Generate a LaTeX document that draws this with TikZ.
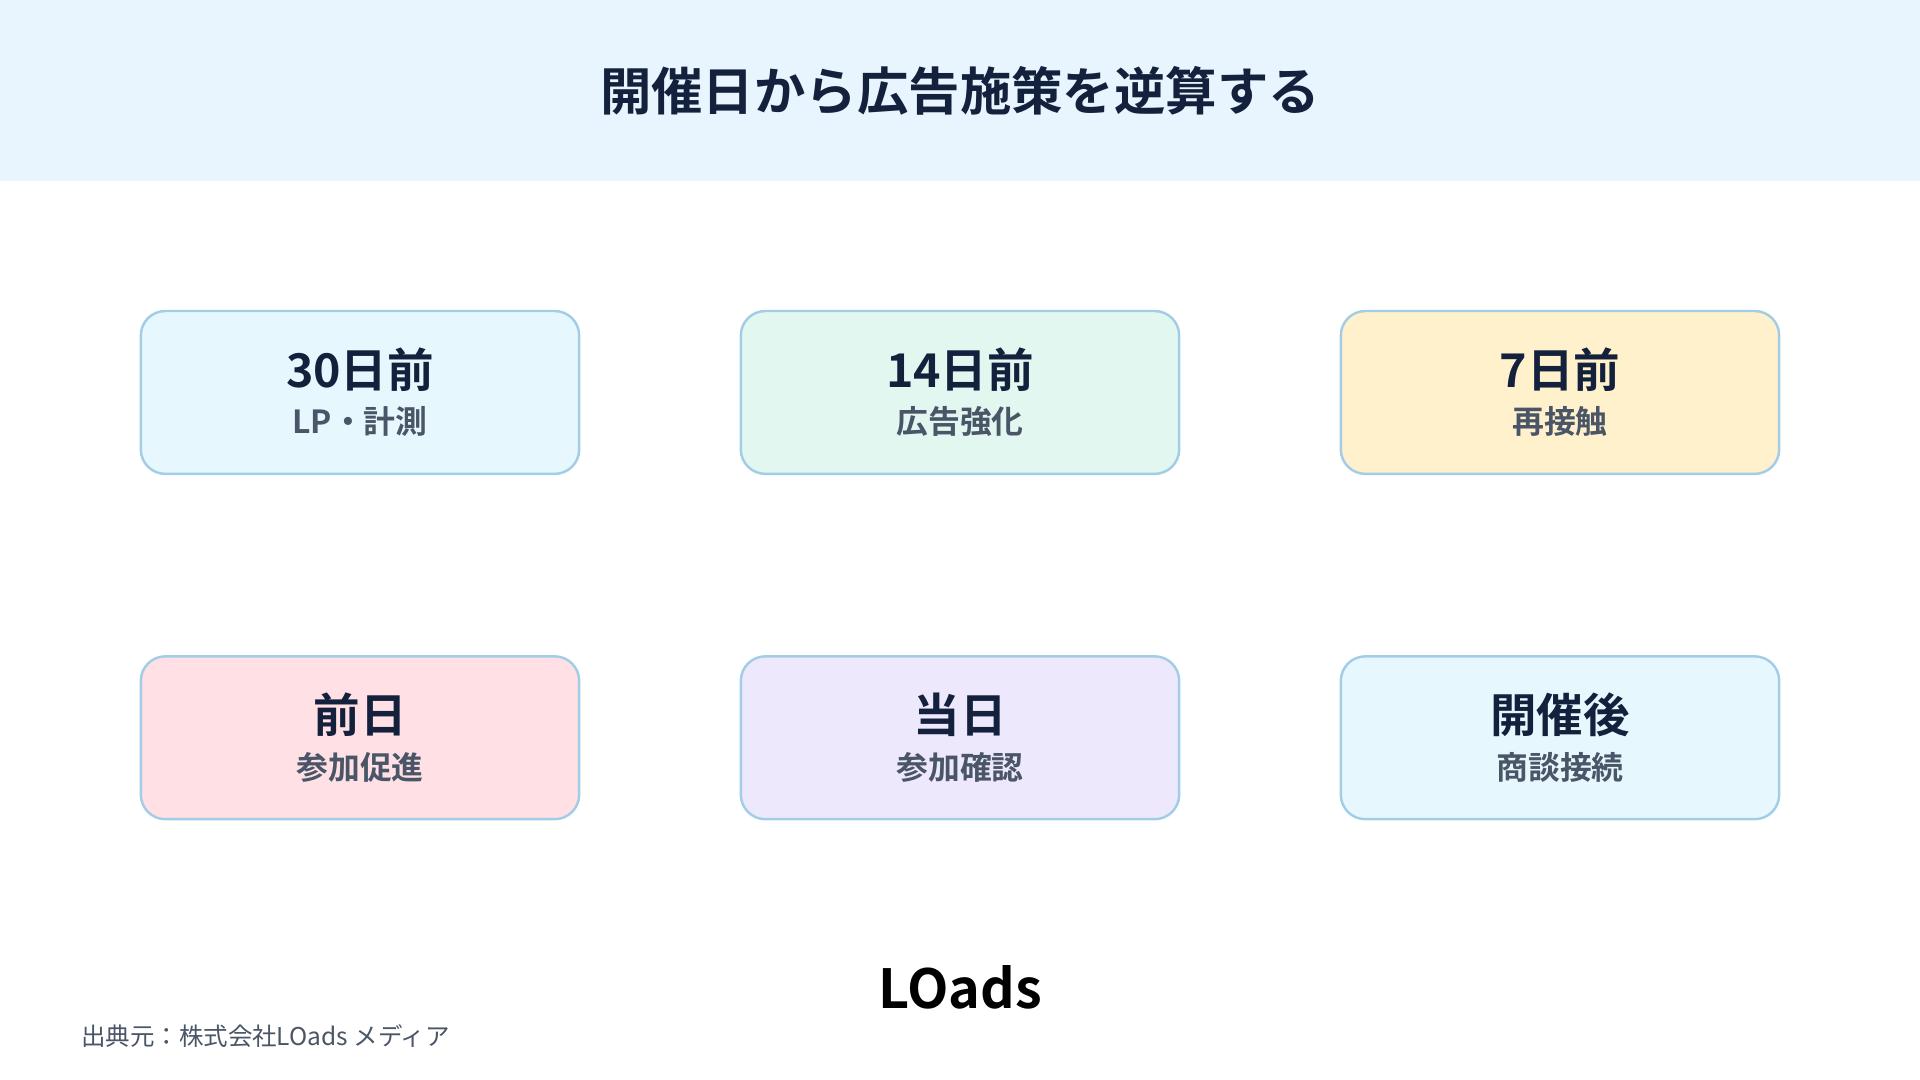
\documentclass[tikz,border=0pt]{standalone}
\usepackage{fontspec}
\setmainfont{Noto Sans CJK JP}
\newfontfamily\jpb{Noto Sans CJK JP}[BoldFont={* Bold}]
\definecolor{navy}{HTML}{14213D}
\definecolor{subc}{HTML}{4A5568}
\definecolor{bord}{HTML}{A3CDE6}
\definecolor{band}{HTML}{E8F5FE}
\definecolor{f1}{HTML}{E6F8FD}
\definecolor{f2}{HTML}{E2F7EF}
\definecolor{f3}{HTML}{FEF1CC}
\definecolor{f4}{HTML}{FFE0E5}
\definecolor{f5}{HTML}{EEE8FD}
\begin{document}
\begin{tikzpicture}[x=1pt,y=-1pt,
  card/.style={draw=bord,line width=2pt,rounded corners=20pt,minimum width=358pt,minimum height=133pt,inner sep=0pt},
  head/.style={font=\jpb\bfseries\fontsize{38}{40}\selectfont,text=navy},
  sub/.style={font=\jpb\bfseries\fontsize{26}{28}\selectfont,text=subc}]
\useasboundingbox (0,0) rectangle (1568,882);
\fill[band] (0,0) rectangle (1568,148);
\node[font=\jpb\bfseries\fontsize{42}{44}\selectfont,text=navy] (title) at (784,74) {開催日から広告施策を逆算する};
\foreach \n/\x/\y/\f/\a/\b in {c1/294/320.5/f1/30日前/LP・計測, c2/784/320.5/f2/14日前/広告強化, c3/1274/320.5/f3/7日前/再接触, c4/294/602.5/f4/前日/参加促進, c5/784/602.5/f5/当日/参加確認, c6/1274/602.5/f1/開催後/商談接続}{
  \node[card,fill=\f] (\n) at (\x,\y) {};
  \node[head] (\n h) at (\x,\y-19) {\a};
  \node[sub] (\n s) at (\x,\y+24) {\b};
}
\node[font=\jpb\bfseries\fontsize{44}{46}\selectfont,text=black] (logo) at (784,806) {LOads};
\node[anchor=west,font=\fontsize{20}{22}\selectfont,text=subc,inner sep=0pt] (foot) at (66,846) {出典元：株式会社LOads メディア};
\end{tikzpicture}
\end{document}
